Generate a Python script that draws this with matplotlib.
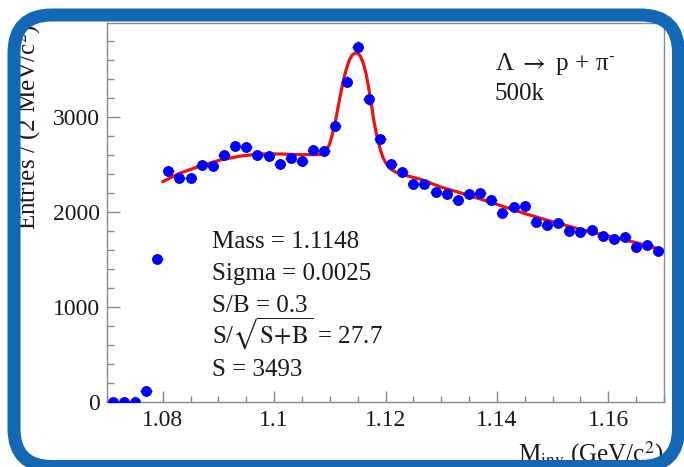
import numpy as np
import matplotlib
matplotlib.use('Agg')
import matplotlib.pyplot as plt
from matplotlib.patches import FancyBboxPatch
from matplotlib.transforms import IdentityTransform
from matplotlib.ticker import MultipleLocator, FuncFormatter

plt.rcParams['font.family'] = ['Liberation Serif', 'DejaVu Serif']
plt.rcParams['mathtext.fontset'] = 'stix'

# histogram: bin centres (GeV/c^2) and entries per 2 MeV bin
bin_centers = [1.071, 1.073, 1.075, 1.077, 1.079, 1.081, 1.083, 1.085, 1.087, 1.089,
               1.091, 1.093, 1.095, 1.097, 1.099, 1.101, 1.103, 1.105, 1.107, 1.109,
               1.111, 1.113, 1.115, 1.117, 1.119, 1.121, 1.123, 1.125, 1.127, 1.129,
               1.131, 1.133, 1.135, 1.137, 1.139, 1.141, 1.143, 1.145, 1.147, 1.149,
               1.151, 1.153, 1.155, 1.157, 1.159, 1.161, 1.163, 1.165, 1.167, 1.169]
entries = [0, 0, 3, 115, 1505, 2430, 2355, 2355, 2490, 2480,
           2605, 2690, 2685, 2600, 2590, 2510, 2565, 2535, 2655, 2645,
           2910, 3370, 3740, 3187, 2770, 2503, 2423, 2298, 2300, 2213,
           2195, 2125, 2195, 2202, 2125, 1993, 2049, 2066, 1899, 1864,
           1889, 1805, 1787, 1812, 1749, 1721, 1732, 1631, 1655, 1585]
bin_width = 0.002

# fitted curve (signal + background)
fit_x = [1.0800, 1.0830, 1.0867, 1.0903, 1.0939, 1.0975, 1.1011, 1.1047, 1.1083, 1.1089,
         1.1095, 1.1100, 1.1105, 1.1110, 1.1115, 1.1120, 1.1125, 1.1130, 1.1135, 1.1140,
         1.1145, 1.1150, 1.1155, 1.1160, 1.1165, 1.1170, 1.1175, 1.1180, 1.1185, 1.1190,
         1.1195, 1.1200, 1.1210, 1.1220, 1.1240, 1.1263, 1.1300, 1.1350, 1.1400, 1.1450,
         1.1500, 1.1550, 1.1600, 1.1650, 1.1700]
fit_y = [2320, 2407, 2484, 2547, 2589, 2611, 2611, 2604, 2605, 2618,
         2660, 2720, 2830, 2950, 3110, 3260, 3400, 3510, 3600, 3650,
         3672, 3672, 3640, 3570, 3460, 3300, 3120, 2930, 2790, 2670,
         2580, 2520, 2450, 2415, 2380, 2345, 2262, 2175, 2081, 1984,
         1897, 1817, 1747, 1678, 1595]

fit_lines = ['Mass = 1.1148', 'Sigma = 0.0025', 'S/B = 0.3',
             r'S/$\sqrt{\mathrm{S\!+\!B}}$ = 27.7', 'S = 3493']

W, H = 684, 467
fig = plt.figure(figsize=(W / 100, H / 100), dpi=100)
fig.patch.set_facecolor('white')

# axes box in pixels: x 107..664, y 23..402 (from top)
ax = fig.add_axes([107 / W, (H - 402) / H, (664 - 107) / W, (402 - 23) / H])

ax.plot(fit_x, fit_y, '-', color='#ee1111', lw=2.3, zorder=2, solid_capstyle='round')
ax.errorbar(bin_centers, entries, xerr=bin_width / 2, yerr=np.sqrt(entries),
            fmt='o', color='#0000ff', ms=6.8, elinewidth=1.0, capsize=0, zorder=3)

ax.set_xlim(1.07, 1.17)
ax.set_ylim(0, 3990)
ax.xaxis.set_major_locator(MultipleLocator(0.02))
ax.xaxis.set_minor_locator(MultipleLocator(0.005))
ax.yaxis.set_major_locator(MultipleLocator(1000))
ax.yaxis.set_minor_locator(MultipleLocator(200))
ax.xaxis.set_major_formatter(FuncFormatter(lambda v, p: '%g' % round(v, 4)))

grey = '#8a8a8a'
for s in ax.spines.values():
    s.set_color(grey)
    s.set_linewidth(1.0)
ax.tick_params(axis='both', which='both', direction='in', color=grey, width=1.0,
               labelcolor='#1a1a1a', labelsize=17, top=False, right=False)
ax.tick_params(axis='y', which='major', length=9, pad=5)
ax.tick_params(axis='y', which='minor', length=5)
ax.tick_params(axis='x', which='major', length=8, pad=6)
ax.tick_params(axis='x', which='minor', length=4.5)

# fit results
for i, line in enumerate(fit_lines):
    fig.text(212 / W, (H - 248 - 32 * i) / H, line, fontsize=18, color='#1a1a1a',
             ha='left', va='baseline')

fig.text(495 / W, (H - 70) / H, r'Λ $\rightarrow$ p + π$^{\text{-}}$', fontsize=18,
         color='#1a1a1a', ha='left', va='baseline')
fig.text(495 / W, (H - 100) / H, '500k', fontsize=18, color='#1a1a1a',
         ha='left', va='baseline')

# axis titles (partly hidden under the frame, as in the slide)
fig.text(663 / W, (H - 461) / H, r'M$_{\mathrm{inv}}$ (GeV/c$^{2}$)', fontsize=18,
         color='#1a1a1a', ha='right', va='baseline')
fig.text(28 / W, (H - 230) / H, 'Entries / (2 MeV/c$^{2}$)', fontsize=18,
         color='#1a1a1a', rotation=90, ha='center', va='bottom')

# rounded blue slide frame
frame = FancyBboxPatch((14, 0.5), 664.5, 451.5, boxstyle='round,pad=0,rounding_size=38',
                       transform=IdentityTransform(), facecolor='none',
                       edgecolor='#1467b5', linewidth=13 * 0.72, zorder=10)
fig.add_artist(frame)

fig.savefig('out.png', dpi=100)
